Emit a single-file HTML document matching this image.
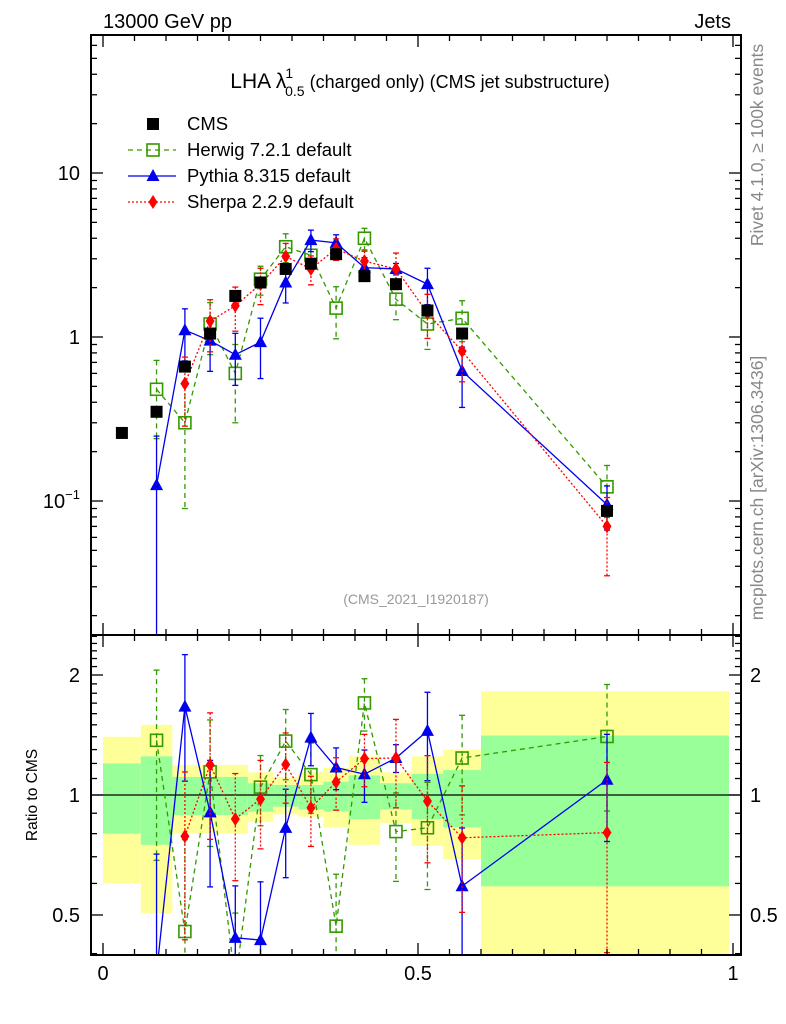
<!DOCTYPE html>
<html><head><meta charset="utf-8"><style>
html,body{margin:0;padding:0;background:#fff;width:786px;height:1024px;overflow:hidden;}
svg{display:block;font-family:"Liberation Sans","DejaVu Sans",sans-serif;}
</style></head><body>
<svg id="chart" width="786" height="1024" viewBox="0 0 786 1024" xmlns="http://www.w3.org/2000/svg">
<g id="bands"></g>
<g id="marks"></g>
<g id="axes"></g>
<text x="103" y="28" font-size="20">13000 GeV pp</text>
<text x="731" y="28" font-size="20" text-anchor="end">Jets</text>
<text x="420" y="88" font-size="21" text-anchor="middle">LHA λ<tspan font-size="14" dy="-10" dx="-1">1</tspan><tspan font-size="14" dy="18" dx="-8">0.5</tspan><tspan dy="-8" font-size="18"> (charged only) (CMS jet substructure)</tspan></text>
<text x="416" y="604" font-size="14" fill="#999" text-anchor="middle">(CMS_2021_I1920187)</text>
<text transform="translate(763,145) rotate(-90)" font-size="17.5" fill="#888" text-anchor="middle">Rivet 4.1.0, ≥ 100k events</text>
<text transform="translate(763,488) rotate(-90)" font-size="17.5" fill="#888" text-anchor="middle">mcplots.cern.ch [arXiv:1306.3436]</text>
<text transform="translate(37,795) rotate(-90)" font-size="15.5" text-anchor="middle">Ratio to CMS</text>
<g id="legend"></g>
</svg>
<script>
const NS="http://www.w3.org/2000/svg";
// ---- data ----
const binEdges=[0,0.06,0.11,0.15,0.19,0.23,0.27,0.31,0.35,0.39,0.44,0.49,0.54,0.6,1.0];
const xCenters=[0.03,0.085,0.13,0.17,0.21,0.25,0.29,0.33,0.37,0.415,0.465,0.515,0.57,0.8];
const cmsVals=[0.26,0.35,0.66,1.05,1.78,2.15,2.6,2.8,3.2,2.35,2.1,1.45,1.05,0.087];
const yellowHi=[1.40,1.50,1.19,1.19,1.19,1.14,1.11,1.14,1.17,1.25,1.14,1.25,1.30,1.82];
const yellowLo=[0.60,0.505,0.80,0.80,0.80,0.857,0.894,0.882,0.83,0.75,0.85,0.745,0.69,0.30];
const greenHi=[1.20,1.25,1.11,1.11,1.11,1.07,1.06,1.06,1.08,1.12,1.07,1.13,1.155,1.41];
const greenLo=[0.80,0.75,0.89,0.89,0.89,0.908,0.935,0.92,0.91,0.87,0.92,0.87,0.83,0.59];
const herwigVals=[null,0.48,0.30,1.2,0.60,2.25,3.55,3.15,1.5,4.0,1.7,1.2,1.3,0.122];
const herwigErr=[0,0.5,0.7,0.35,0.5,0.2,0.2,0.2,0.35,0.15,0.25,0.3,0.28,0.35];
const pythiaVals=[null,0.125,1.1,0.95,0.78,0.93,2.15,3.9,3.75,2.65,2.6,2.1,0.62,0.095];
const pythiaErr=[0,0.99,0.35,0.35,0.35,0.4,0.25,0.15,0.12,0.15,0.08,0.25,0.4,0.3];
const sherpaVals=[null,null,0.52,1.25,1.55,2.1,3.1,2.6,3.45,2.9,2.6,1.4,0.82,0.07];
const sherpaErr=[0,0,0.45,0.35,0.3,0.25,0.2,0.2,0.15,0.15,0.25,0.3,0.35,0.5];
const mainTicks=[0.1,1,10];
const mainTickLabels=["10⁻¹","1","10"];
const ratioTicks=[0.5,1,2];
const ratioTickLabels=["0.5","1","2"];
const xTicks=[0,0.5,1];
const xTickLabels=["0","0.5","1"];
// ---- geometry ----
const L=91,R=741,T=35,MB=635,RB=955;
const X=v=>103+630*v;
const Ym=v=>337-164*Math.log10(v);
const Yr=v=>795-398.6*Math.log10(v);
function el(tag,attrs,parent){const e=document.createElementNS(NS,tag);for(const k in attrs)e.setAttribute(k,attrs[k]);parent.appendChild(e);return e;}
const bands=document.getElementById('bands'),marks=document.getElementById('marks'),axes=document.getElementById('axes'),legend=document.getElementById('legend');
function clampR(y){return Math.max(MB,Math.min(RB,y));}
for(let i=0;i<binEdges.length-1;i++){
  const x0=X(binEdges[i]),x1=Math.min(X(binEdges[i+1]),729);
  const y=el('rect',{x:x0,y:clampR(Yr(yellowHi[i])),width:x1-x0,height:clampR(Yr(yellowLo[i]))-clampR(Yr(yellowHi[i])),fill:'#ffff99'},bands);
  
  
  const g=el('rect',{x:x0,y:Yr(greenHi[i]),width:x1-x0,height:Yr(greenLo[i])-Yr(greenHi[i]),fill:'#99ff99'},bands);
  
  
}
const one=el('line',{x1:L,x2:R,y1:Yr(1),y2:Yr(1),stroke:'#000','stroke-width':1.2},bands);


const defs=el('defs',{},document.getElementById('chart'));
const c1=el('clipPath',{id:'cm'},defs);el('rect',{x:L,y:T,width:R-L,height:MB-T},c1);
const c2=el('clipPath',{id:'cr'},defs);el('rect',{x:L,y:MB,width:R-L,height:RB-MB},c2);
const gm=el('g',{'clip-path':'url(#cm)'},marks);
const gr=el('g',{'clip-path':'url(#cr)'},marks);
function marker(type,x,y,color,parent,name){
  let m;
  if(type==='sq')m=el('rect',{x:x-6,y:y-6,width:12,height:12,fill:'#000'},parent);
  else if(type==='osq')m=el('rect',{x:x-6,y:y-6,width:12,height:12,fill:'none',stroke:color,'stroke-width':1.6},parent);
  else if(type==='tri')m=el('polygon',{points:`${x},${y-7} ${x-6.5},${y+5} ${x+6.5},${y+5}`,fill:color},parent);
  else m=el('polygon',{points:`${x},${y-7} ${x-4.5},${y} ${x},${y+7} ${x+4.5},${y}`,fill:color},parent);
  
  
}
const series=[
  {name:'herwig',vals:herwigVals,err:herwigErr,color:'#339900',dash:'5,4',type:'osq'},
  {name:'pythia',vals:pythiaVals,err:pythiaErr,color:'#0000ee',dash:'',type:'tri'},
  {name:'sherpa',vals:sherpaVals,err:sherpaErr,color:'#ff0000',dash:'2,2',type:'dia'}
];
series.forEach(s=>{
  const ptsM=[],ptsR=[];
  s.vals.forEach((v,i)=>{
    if(v==null)return;
    const x=X(xCenters[i]);const r=v/cmsVals[i];
    ptsM.push([x,Ym(v)]);ptsR.push([x,Yr(r)]);
  });
  const lm=el('polyline',{points:ptsM.map(p=>p.join(',')).join(' '),fill:'none',stroke:s.color,'stroke-width':1.3,'stroke-dasharray':s.dash},gm);
  
  
  const lr=el('polyline',{points:ptsR.map(p=>p.join(',')).join(' '),fill:'none',stroke:s.color,'stroke-width':1.3,'stroke-dasharray':s.dash},gr);
  
  
  s.vals.forEach((v,i)=>{
    if(v==null)return;
    const x=X(xCenters[i]);const e=s.err[i];
    const lo=Math.max(v*(1-e),1e-4),hi=v*(1+e);
    [[gm,Ym,1],[gr,Yr,cmsVals[i]]].forEach(([g,F,d],k)=>{
      const y1=F(hi/d),y2=F(lo/d);
      const b=el('line',{x1:x,x2:x,y1:y1,y2:y2,stroke:s.color,'stroke-width':1.3,'stroke-dasharray':s.dash},g);
      
      
      el('line',{x1:x-3,x2:x+3,y1:y1,y2:y1,stroke:s.color,'stroke-width':1.3},g);
      el('line',{x1:x-3,x2:x+3,y1:y2,y2:y2,stroke:s.color,'stroke-width':1.3},g);
      marker(s.type,x,F(v/d),s.color,g,s.name+(k?'-ratio-point':'-point'));
    });
  });
});
cmsVals.forEach((v,i)=>marker('sq',X(xCenters[i]),Ym(v),'#000',gm,'cms-point'));
[[T,MB],[MB,RB]].forEach(([a,b],k)=>{
  const f=el('rect',{x:L,y:a,width:R-L,height:b-a,fill:'none',stroke:'#000','stroke-width':2},axes);
  
  
});
for(let j=0;j<=20;j++){
  const v=j*0.05,x=X(v);const len=(j%10===0)?12:6;
  [[T,1],[MB,-1],[MB,1],[RB,-1]].forEach(([y,d])=>el('line',{x1:x,x2:x,y1:y,y2:y+d*len,stroke:'#000','stroke-width':1.3},axes));
}
xTicks.forEach((v,i)=>{const t=el('text',{x:X(v),y:980,'font-size':20,'text-anchor':'middle'},axes);t.textContent=xTickLabels[i];

});
for(let d=-2;d<=1;d++)for(let m=1;m<=9;m++){
  const v=m*Math.pow(10,d),y=Ym(v);if(y<T||y>MB)continue;const len=m===1?12:6;
  el('line',{x1:L,x2:L+len,y1:y,y2:y,stroke:'#000','stroke-width':1.3},axes);
  el('line',{x1:R,x2:R-len,y1:y,y2:y,stroke:'#000','stroke-width':1.3},axes);
}
mainTicks.forEach((v,i)=>{const t=el('text',{x:80,y:Ym(v)+7,'font-size':20,'text-anchor':'end'},axes);
if(i===0){t.textContent='10';const s=el('tspan',{'font-size':13,dy:-9},t);s.textContent='−1';}else t.textContent=mainTickLabels[i];

});
[0.4,0.5,0.6,0.7,0.8,0.9,1,1.1,1.2,1.3,1.4,1.5,1.6,1.7,1.8,1.9,2,2.1,2.2,2.3,2.4,2.5].forEach(v=>{
  const y=Yr(v);if(y<MB||y>RB)return;const len=ratioTicks.includes(v)?12:6;
  el('line',{x1:L,x2:L+len,y1:y,y2:y,stroke:'#000','stroke-width':1.3},axes);
  el('line',{x1:R,x2:R-len,y1:y,y2:y,stroke:'#000','stroke-width':1.3},axes);
});
ratioTicks.forEach((v,i)=>{[[80,'end'],[750,'start']].forEach(([x,a])=>{const t=el('text',{x:x,y:Yr(v)+7,'font-size':20,'text-anchor':a},axes);t.textContent=ratioTickLabels[i];

});});
const legNames=['CMS','Herwig 7.2.1 default','Pythia 8.315 default','Sherpa 2.2.9 default'];
const legY=[124,150,176,202];
legNames.forEach((n,i)=>{
  const y=legY[i];
  if(i>0){const s=series[i-1];el('line',{x1:128,x2:176,y1:y,y2:y,stroke:s.color,'stroke-width':1.3,'stroke-dasharray':s.dash},legend);marker(s.type,153,y,s.color,legend,'legend-marker-'+s.name);}
  else marker('sq',153,y,'#000',legend,'legend-marker-cms');
  const t=el('text',{x:187,y:y+6,'font-size':18.5},legend);t.textContent=n;
  
  
});
</script>
</body></html>
